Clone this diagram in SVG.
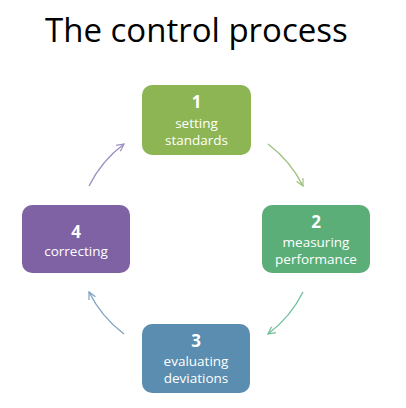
<svg xmlns="http://www.w3.org/2000/svg" width="406" height="408" viewBox="0 0 406 408">
<defs>
<style>
.title{font-family:"Open Sans","Liberation Sans",sans-serif;font-size:33px;fill:#000;}
.num{font-family:"Open Sans","Liberation Sans",sans-serif;font-size:17px;font-weight:bold;fill:#fff;text-anchor:middle;}
.lbl{font-family:"Open Sans","Liberation Sans",sans-serif;font-size:13.5px;fill:#fff;text-anchor:middle;}
.arc{fill:none;stroke-width:1.3;}
</style>
<marker id="m1" viewBox="0 0 10 10" refX="9" refY="5" markerWidth="9" markerHeight="9" markerUnits="userSpaceOnUse" orient="auto"><polyline points="1,1 9,5 1,9" fill="none" stroke="#9cc07c" stroke-width="1.3"/></marker>
<marker id="m2" viewBox="0 0 10 10" refX="9" refY="5" markerWidth="9" markerHeight="9" markerUnits="userSpaceOnUse" orient="auto"><polyline points="1,1 9,5 1,9" fill="none" stroke="#6dbf97" stroke-width="1.3"/></marker>
<marker id="m3" viewBox="0 0 10 10" refX="9" refY="5" markerWidth="9" markerHeight="9" markerUnits="userSpaceOnUse" orient="auto"><polyline points="1,1 9,5 1,9" fill="none" stroke="#7d9fbe" stroke-width="1.3"/></marker>
<marker id="m4" viewBox="0 0 10 10" refX="9" refY="5" markerWidth="9" markerHeight="9" markerUnits="userSpaceOnUse" orient="auto"><polyline points="1,1 9,5 1,9" fill="none" stroke="#9b8dc0" stroke-width="1.3"/></marker>
</defs>
<rect width="406" height="408" fill="#fff"/>
<text class="title" x="45" y="42">The control process</text>
<g id="connectors">
<path class="arc" stroke="#9cc07c" d="M268,144 A119,119 0 0 1 303,186" marker-end="url(#m1)"/>
<path class="arc" stroke="#6dbf97" d="M303,292 A119,119 0 0 1 268,334" marker-end="url(#m2)"/>
<path class="arc" stroke="#7d9fbe" d="M124,334 A119,119 0 0 1 89,292" marker-end="url(#m3)"/>
<path class="arc" stroke="#9b8dc0" d="M89,186 A119,119 0 0 1 124,144" marker-end="url(#m4)"/>
</g>
<g id="node1">
<rect x="142" y="85" width="109" height="70" rx="10" fill="#8db554"/>
<text class="num" x="196.5" y="108">1</text>
<text class="lbl" x="196.5" y="128">setting</text>
<text class="lbl" x="196.5" y="145">standards</text>
</g>
<g id="node2">
<rect x="262" y="205" width="108" height="68" rx="10" fill="#5bae78"/>
<text class="num" x="316" y="228">2</text>
<text class="lbl" x="316" y="247">measuring</text>
<text class="lbl" x="316" y="264">performance</text>
</g>
<g id="node3">
<rect x="142" y="324" width="108" height="69" rx="10" fill="#5a8daf"/>
<text class="num" x="196" y="347">3</text>
<text class="lbl" x="196" y="366">evaluating</text>
<text class="lbl" x="196" y="383">deviations</text>
</g>
<g id="node4">
<rect x="22" y="205" width="108" height="68" rx="10" fill="#7f62a4"/>
<text class="num" x="76" y="238">4</text>
<text class="lbl" x="76" y="256">correcting</text>
</g>
</svg>
